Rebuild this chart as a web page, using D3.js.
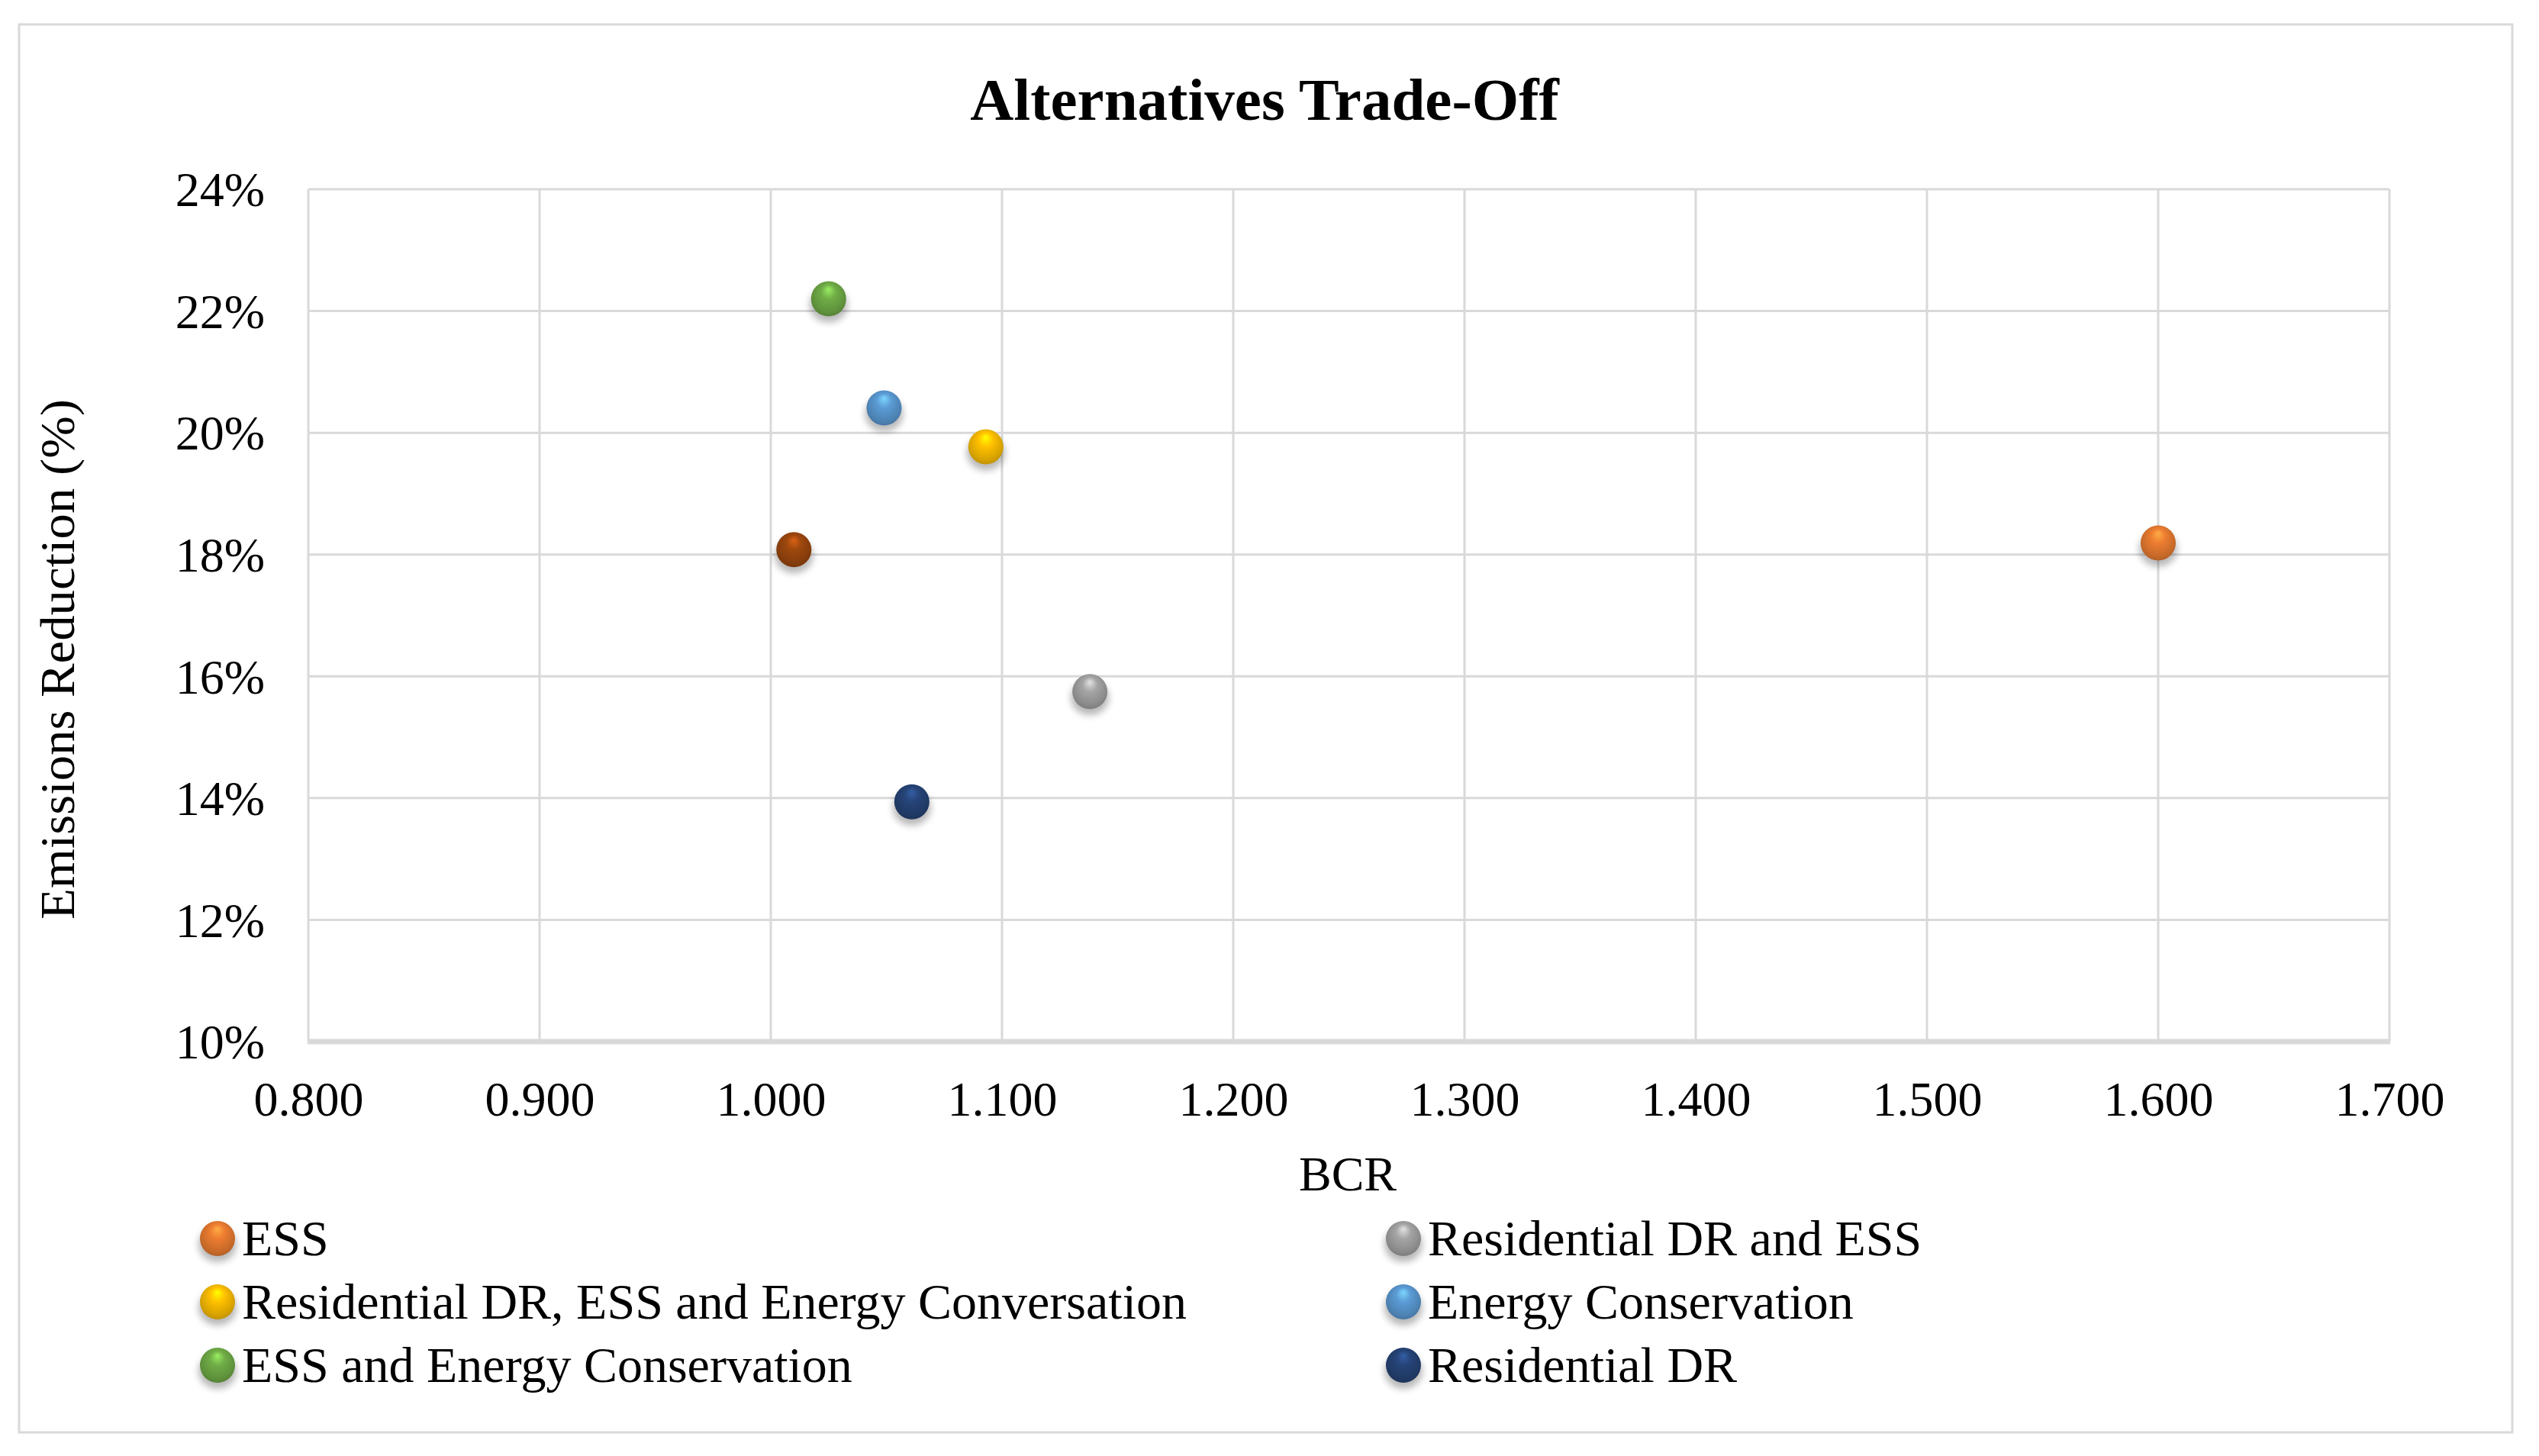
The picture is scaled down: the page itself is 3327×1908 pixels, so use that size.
<!DOCTYPE html>
<html>
<head>
<meta charset="utf-8">
<script src="https://cdn.jsdelivr.net/npm/d3@7"></script>
<style>
  html, body { margin: 0; padding: 0; background: #ffffff; }
  svg { display: block; }
  text { font-family: "Liberation Serif", "Times New Roman", serif; fill: #000; }
</style>
</head>
<body>
<svg id="chart" width="3327" height="1908"></svg>
<script>
// ---------------- data ----------------
const seriesNames = [
  "ESS",
  "Residential DR and ESS",
  "Residential DR, ESS and Energy Conversation",
  "Energy Conservation",
  "ESS and Energy Conservation",
  "Residential DR",
  "(unlabelled)"
];
const bcrValues      = [1.600, 1.138, 1.093, 1.049, 1.025, 1.061, 1.010];
const emissionValues = [0.1819, 0.1575, 0.1977, 0.2041, 0.2220, 0.1394, 0.1808];
const seriesColors   = ["#ED7D31", "#A5A5A5", "#FFC000", "#5B9BD5", "#70AD47", "#264478", "#9E480E"];
const legendOrder    = [0, 1, 2, 3, 4, 5]; // row-major: left, right
const xTickValues    = [0.8, 0.9, 1.0, 1.1, 1.2, 1.3, 1.4, 1.5, 1.6, 1.7];
const yTickValues    = [0.10, 0.12, 0.14, 0.16, 0.18, 0.20, 0.22, 0.24];
const chartTitle     = "Alternatives Trade-Off";
const xAxisTitle     = "BCR";
const yAxisTitle     = "Emissions Reduction (%)";

// ---------------- layout ----------------
const W = 3327, H = 1908;
const plot = { left: 404, right: 3131, top: 248, bottom: 1365 };
const svg = d3.select("#chart");

const x = d3.scaleLinear().domain([0.8, 1.7]).range([plot.left, plot.right]);
const y = d3.scaleLinear().domain([0.10, 0.24]).range([plot.bottom, plot.top]);

// defs: gradients & shadow
const defs = svg.append("defs");
seriesColors.forEach((c, i) => {
  const base = d3.color(c);
  const g = defs.append("radialGradient")
    .attr("id", "sph" + i)
    .attr("cx", "50%").attr("cy", "45%").attr("r", "60%")
    .attr("fx", "50%").attr("fy", "22%");
  g.append("stop").attr("offset", "0%").attr("stop-color", base.brighter(0.9).formatHex());
  g.append("stop").attr("offset", "35%").attr("stop-color", base.formatHex());
  g.append("stop").attr("offset", "80%").attr("stop-color", base.darker(0.5).formatHex());
  g.append("stop").attr("offset", "100%").attr("stop-color", base.darker(0.9).formatHex());
});
const blur = defs.append("filter").attr("id", "shadowBlur")
  .attr("x", "-50%").attr("y", "-50%").attr("width", "200%").attr("height", "200%");
blur.append("feGaussianBlur").attr("stdDeviation", 5);

// outer border
svg.append("rect")
  .attr("x", 25).attr("y", 32).attr("width", 3292 - 25).attr("height", 1877 - 32)
  .attr("fill", "#fff").attr("stroke", "#d9d9d9").attr("stroke-width", 3);

// title
svg.append("text")
  .attr("x", 1657).attr("y", 157)
  .attr("text-anchor", "middle")
  .attr("font-size", 79).attr("font-weight", "bold")
  .text(chartTitle);

// gridlines
const grid = svg.append("g").attr("class", "grid");
grid.selectAll("line.v").data(xTickValues).join("line")
  .attr("class", "v")
  .attr("x1", d => x(d)).attr("x2", d => x(d))
  .attr("y1", plot.top).attr("y2", plot.bottom)
  .attr("stroke", "#d9d9d9").attr("stroke-width", 3);
grid.selectAll("line.h").data(yTickValues).join("line")
  .attr("class", "h")
  .attr("x1", plot.left).attr("x2", plot.right)
  .attr("y1", d => y(d)).attr("y2", d => y(d))
  .attr("stroke", "#d9d9d9").attr("stroke-width", 3);
// x-axis baseline (thicker)
svg.append("line")
  .attr("x1", plot.left - 1).attr("x2", plot.right + 1)
  .attr("y1", y(0.10)).attr("y2", y(0.10))
  .attr("stroke", "#d9d9d9").attr("stroke-width", 7);

// axes (labels only)
const xAxis = d3.axisBottom(x).tickValues(xTickValues).tickFormat(d3.format(".3f")).tickSize(0).tickPadding(0);
const gx = svg.append("g").attr("transform", `translate(0,${plot.bottom})`).call(xAxis);
gx.select(".domain").remove();
gx.selectAll("text")
  .attr("y", 97).attr("dy", null)
  .attr("font-size", 64)
  .style("font-family", "'Liberation Serif', 'Times New Roman', serif")
  .attr("fill", "#000");

const yAxis = d3.axisLeft(y).tickValues(yTickValues).tickFormat(d3.format(".0%")).tickSize(0).tickPadding(0);
const gy = svg.append("g").attr("transform", `translate(${plot.left},0)`).call(yAxis);
gy.select(".domain").remove();
gy.selectAll("text")
  .attr("x", 347 - plot.left).attr("dy", "0.34em")
  .attr("font-size", 64)
  .style("font-family", "'Liberation Serif', 'Times New Roman', serif")
  .attr("fill", "#000");

// axis titles
svg.append("text")
  .attr("x", 1766).attr("y", 1560)
  .attr("text-anchor", "middle")
  .attr("font-size", 64)
  .text(xAxisTitle);
svg.append("text")
  .attr("transform", "translate(97,864) rotate(-90)")
  .attr("text-anchor", "middle")
  .attr("font-size", 64)
  .attr("textLength", 682).attr("lengthAdjust", "spacingAndGlyphs")
  .text(yAxisTitle);

// markers
const R = 23;
function sphere(g, cx, cy, i) {
  g.append("ellipse")
    .attr("cx", cx).attr("cy", cy + 8).attr("rx", R + 2).attr("ry", R)
    .attr("fill", "#000").attr("opacity", 0.28).attr("filter", "url(#shadowBlur)");
  g.append("circle")
    .attr("cx", cx).attr("cy", cy).attr("r", R)
    .attr("fill", `url(#sph${i})`);
}
const pts = svg.append("g").attr("class", "points");
seriesNames.forEach((n, i) => {
  const g = pts.append("g").attr("class", "series");
  sphere(g, x(bcrValues[i]), y(emissionValues[i]), i);
});

// legend
const legendCols = [285, 1839];
const legendRows = [1623, 1706, 1789];
const lg = svg.append("g").attr("class", "legend");
legendOrder.forEach((si, k) => {
  const col = k % 2, row = Math.floor(k / 2);
  const cx = legendCols[col], cy = legendRows[row];
  const g = lg.append("g");
  sphere(g, cx, cy, si);
  g.append("text")
    .attr("x", cx + 32).attr("y", cy + 22)
    .attr("font-size", 66)
    .text(seriesNames[si]);
});
</script>
</body>
</html>
